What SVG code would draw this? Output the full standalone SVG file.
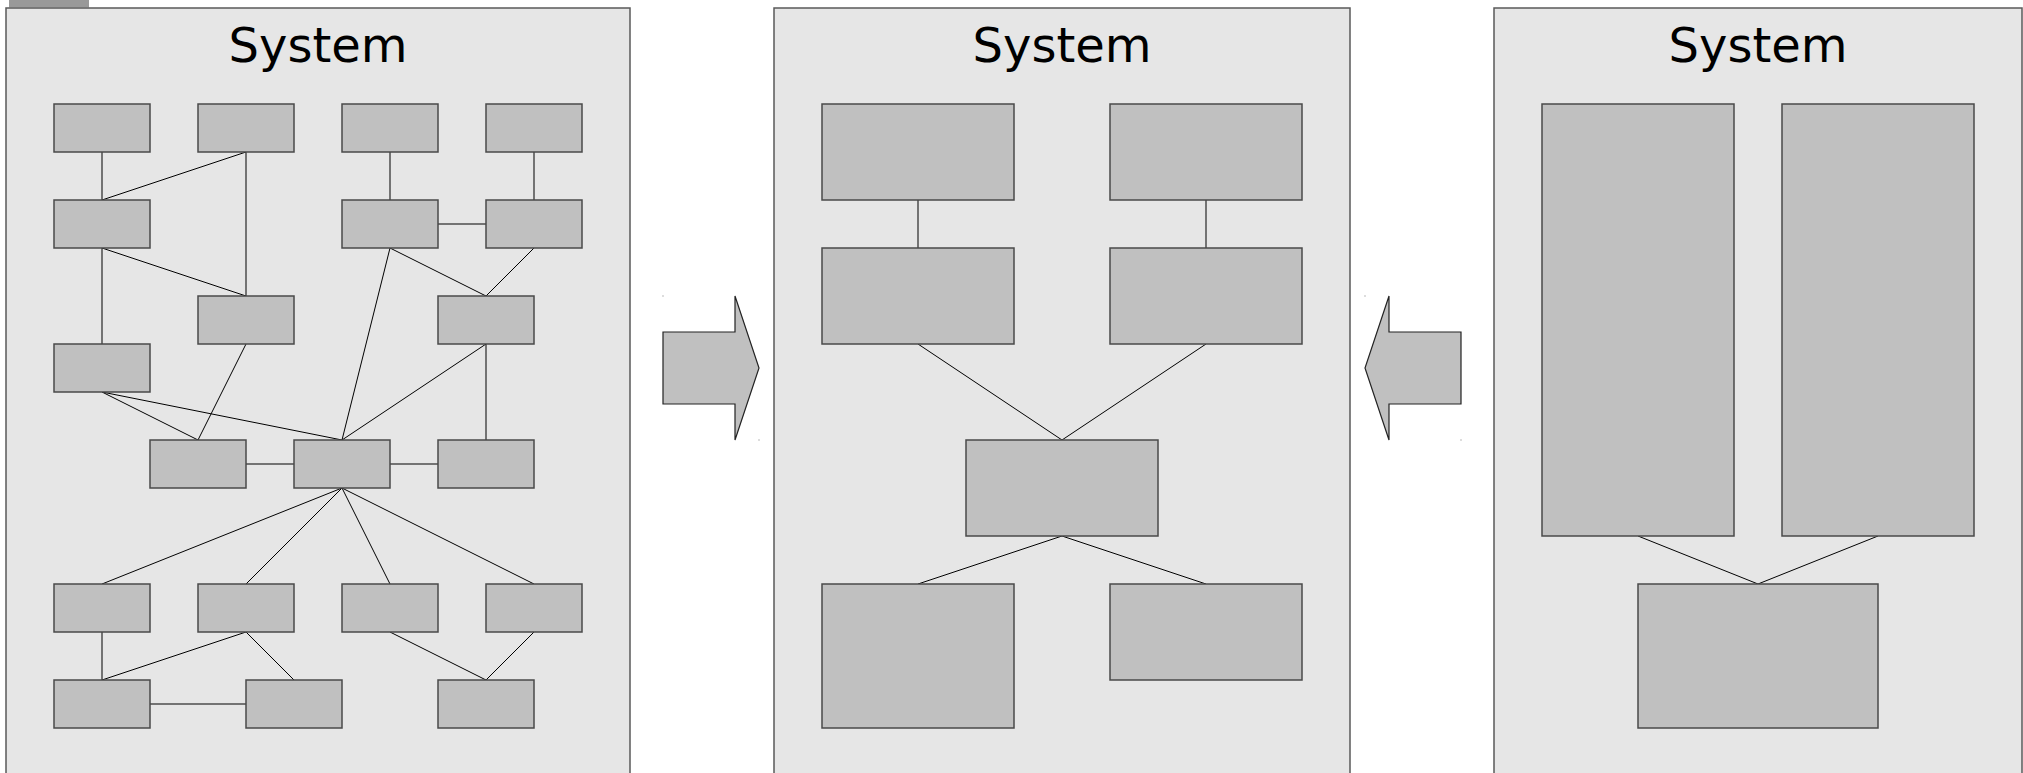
<svg xmlns="http://www.w3.org/2000/svg" width="2023" height="773" viewBox="0 0 2023 773">
  <style>
    .panel { fill: #e6e6e6; stroke: #5a5a5a; stroke-width: 1.5; }
    .node { fill: #c0c0c0; stroke: #4a4a4a; stroke-width: 1.5; }
    .title { font-family: "DejaVu Sans", "Liberation Sans", sans-serif; font-size: 48px; fill: #000; text-anchor: middle; }
    .link { stroke: #000; stroke-width: 1; fill: none; }
    .arrow { fill: #c0c0c0; stroke: #222; stroke-width: 1.2; stroke-linejoin: miter; }
    .dot { fill: #777; }
  </style>

  <rect width="2023" height="773" fill="#ffffff"/>

  <!-- small tab above the first panel -->
  <rect x="9" y="0" width="80" height="7.5" fill="#999999"/>

  <!-- panels -->
  <g id="panel-left">
    <rect class="panel" x="6" y="8" width="624" height="800"/>
    <text class="title" x="318" y="62">System</text>
  </g>
  <g id="panel-middle">
    <rect class="panel" x="774" y="8" width="576" height="800"/>
    <text class="title" x="1062" y="62">System</text>
  </g>
  <g id="panel-right">
    <rect class="panel" x="1494" y="8" width="528" height="800"/>
    <text class="title" x="1758" y="62">System</text>
  </g>

  <!-- connectors -->
  <g id="connectors">
    <!-- left panel -->
    <line class="link" x1="102" y1="152" x2="102" y2="200"/>
    <line class="link" x1="246" y1="152" x2="102" y2="200"/>
    <line class="link" x1="246" y1="152" x2="246" y2="296"/>
    <line class="link" x1="102" y1="248" x2="246" y2="296"/>
    <line class="link" x1="102" y1="248" x2="102" y2="344"/>
    <line class="link" x1="390" y1="152" x2="390" y2="200"/>
    <line class="link" x1="534" y1="152" x2="534" y2="200"/>
    <line class="link" x1="438" y1="224" x2="486" y2="224"/>
    <line class="link" x1="390" y1="248" x2="486" y2="296"/>
    <line class="link" x1="534" y1="248" x2="486" y2="296"/>
    <line class="link" x1="390" y1="248" x2="342" y2="440"/>
    <line class="link" x1="246" y1="344" x2="198" y2="440"/>
    <line class="link" x1="486" y1="344" x2="342" y2="440"/>
    <line class="link" x1="486" y1="344" x2="486" y2="440"/>
    <line class="link" x1="102" y1="392" x2="198" y2="440"/>
    <line class="link" x1="102" y1="392" x2="342" y2="440"/>
    <line class="link" x1="246" y1="464" x2="294" y2="464"/>
    <line class="link" x1="390" y1="464" x2="438" y2="464"/>
    <line class="link" x1="342" y1="488" x2="102" y2="584"/>
    <line class="link" x1="342" y1="488" x2="246" y2="584"/>
    <line class="link" x1="342" y1="488" x2="390" y2="584"/>
    <line class="link" x1="342" y1="488" x2="534" y2="584"/>
    <line class="link" x1="102" y1="632" x2="102" y2="680"/>
    <line class="link" x1="246" y1="632" x2="102" y2="680"/>
    <line class="link" x1="246" y1="632" x2="294" y2="680"/>
    <line class="link" x1="390" y1="632" x2="486" y2="680"/>
    <line class="link" x1="534" y1="632" x2="486" y2="680"/>
    <line class="link" x1="150" y1="704" x2="246" y2="704"/>
    <!-- middle panel -->
    <line class="link" x1="918" y1="200" x2="918" y2="248"/>
    <line class="link" x1="1206" y1="200" x2="1206" y2="248"/>
    <line class="link" x1="918" y1="344" x2="1062" y2="440"/>
    <line class="link" x1="1206" y1="344" x2="1062" y2="440"/>
    <line class="link" x1="1062" y1="536" x2="918" y2="584"/>
    <line class="link" x1="1062" y1="536" x2="1206" y2="584"/>
    <!-- right panel -->
    <line class="link" x1="1638" y1="536" x2="1758" y2="584"/>
    <line class="link" x1="1878" y1="536" x2="1758" y2="584"/>
  </g>

  <!-- left panel nodes -->
  <g id="n-a1"><rect class="node" x="54" y="104" width="96" height="48"/></g>
  <g id="n-a2"><rect class="node" x="198" y="104" width="96" height="48"/></g>
  <g id="n-a3"><rect class="node" x="342" y="104" width="96" height="48"/></g>
  <g id="n-a4"><rect class="node" x="486" y="104" width="96" height="48"/></g>
  <g id="n-b1"><rect class="node" x="54" y="200" width="96" height="48"/></g>
  <g id="n-b3"><rect class="node" x="342" y="200" width="96" height="48"/></g>
  <g id="n-b4"><rect class="node" x="486" y="200" width="96" height="48"/></g>
  <g id="n-c2"><rect class="node" x="198" y="296" width="96" height="48"/></g>
  <g id="n-c4"><rect class="node" x="438" y="296" width="96" height="48"/></g>
  <g id="n-d1"><rect class="node" x="54" y="344" width="96" height="48"/></g>
  <g id="n-e1"><rect class="node" x="150" y="440" width="96" height="48"/></g>
  <g id="n-e2"><rect class="node" x="294" y="440" width="96" height="48"/></g>
  <g id="n-e3"><rect class="node" x="438" y="440" width="96" height="48"/></g>
  <g id="n-f1"><rect class="node" x="54" y="584" width="96" height="48"/></g>
  <g id="n-f2"><rect class="node" x="198" y="584" width="96" height="48"/></g>
  <g id="n-f3"><rect class="node" x="342" y="584" width="96" height="48"/></g>
  <g id="n-f4"><rect class="node" x="486" y="584" width="96" height="48"/></g>
  <g id="n-g1"><rect class="node" x="54" y="680" width="96" height="48"/></g>
  <g id="n-g2"><rect class="node" x="246" y="680" width="96" height="48"/></g>
  <g id="n-g3"><rect class="node" x="438" y="680" width="96" height="48"/></g>

  <!-- middle panel nodes -->
  <g id="m-top-left"><rect class="node" x="822" y="104" width="192" height="96"/></g>
  <g id="m-top-right"><rect class="node" x="1110" y="104" width="192" height="96"/></g>
  <g id="m-mid-left"><rect class="node" x="822" y="248" width="192" height="96"/></g>
  <g id="m-mid-right"><rect class="node" x="1110" y="248" width="192" height="96"/></g>
  <g id="m-center"><rect class="node" x="966" y="440" width="192" height="96"/></g>
  <g id="m-bottom-left"><rect class="node" x="822" y="584" width="192" height="144"/></g>
  <g id="m-bottom-right"><rect class="node" x="1110" y="584" width="192" height="96"/></g>

  <!-- right panel nodes -->
  <g id="r-left"><rect class="node" x="1542" y="104" width="192" height="432"/></g>
  <g id="r-right"><rect class="node" x="1782" y="104" width="192" height="432"/></g>
  <g id="r-bottom"><rect class="node" x="1638" y="584" width="240" height="144"/></g>

  <!-- block arrows between panels -->
  <g id="arrow-right">
    <polygon class="arrow" points="663,332 735,332 735,296 759,368 735,440 735,404 663,404"/>
    <rect class="dot" x="662.5" y="295.5" width="1" height="1"/>
    <rect class="dot" x="758.5" y="439.5" width="1" height="1"/>
  </g>
  <g id="arrow-left">
    <polygon class="arrow" points="1461,332 1389,332 1389,296 1365,368 1389,440 1389,404 1461,404"/>
    <rect class="dot" x="1364.5" y="295.5" width="1" height="1"/>
    <rect class="dot" x="1460.5" y="439.5" width="1" height="1"/>
  </g>
</svg>
